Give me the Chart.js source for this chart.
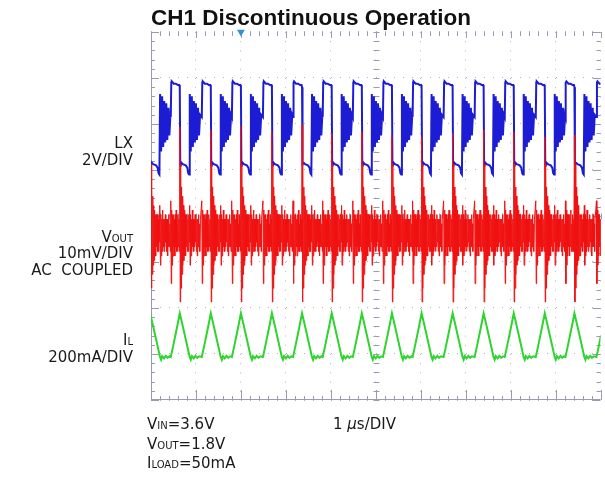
<!DOCTYPE html>
<html>
<head>
<meta charset="utf-8">
<script src="https://cdn.jsdelivr.net/npm/chart.js@4.4.1/dist/chart.umd.min.js"></script>
<style>
    body { margin: 0; background: #fff; }
    #wrap { position: relative; width: 605px; height: 480px; overflow: hidden; }
    #scope { position: absolute; left: 0; top: 0; }
    .lbl { position: absolute; font-family: "DejaVu Sans", sans-serif; font-size: 15px; line-height: 15px; color: #1a1a1a; white-space: nowrap; }
    .r { right: 472px; text-align: right; }
    .sub { font-size: 10px; }
</style>
</head>
<body>
<div id="wrap">
    <canvas id="scope" width="605" height="480"></canvas>

    <div class="lbl r" style="top:136px">LX</div>
    <div class="lbl r" style="top:153px">2V/DIV</div>

    <div class="lbl r" style="top:230px">V<span class="sub">OUT</span></div>
    <div class="lbl r" style="top:246px">10mV/DIV</div>
    <div class="lbl r" style="top:263px">AC&nbsp;&nbsp;COUPLED</div>

    <div class="lbl r" style="top:333px">I<span class="sub">L</span></div>
    <div class="lbl r" style="top:350px">200mA/DIV</div>

    <div class="lbl" style="left:147px; top:417px">V<span class="sub">IN</span>=3.6V</div>
    <div class="lbl" style="left:147px; top:437px">V<span class="sub">OUT</span>=1.8V</div>
    <div class="lbl" style="left:147px; top:456px">I<span class="sub">LOAD</span>=50mA</div>
    <div class="lbl" style="left:333px; top:417px">1 <i>&mu;</i>s/DIV</div>
</div>

<script>
// switching cycle starts (LX rising edges), µs
const lxRise = [-0.22, 0.44, 1.13, 1.80, 2.49, 3.16, 3.82, 4.49, 5.16, 5.82, 6.51, 7.20, 7.87, 8.56, 9.22, 9.91];

// LX node over one cycle: time after rising edge (µs) / volts
const lxT = [0.000, 0.011, 0.022, 0.067, 0.111, 0.156, 0.189, 0.200, 0.211, 0.222, 0.267, 0.333, 0.367,
             0.389, 0.407, 0.422, 0.445, 0.468, 0.491, 0.514, 0.537, 0.560, 0.583, 0.606, 0.629, 0.652];
const lxV = [2.0, 3.5, 3.55, 3.45, 3.45, 3.4, 3.4, 3.3, -0.1, 0.05, -0.05, -0.1, -0.2,
             -0.45, -0.5, 3.0, 0.5, 2.9, 0.7, 2.7, 0.9, 2.6, 1.0, 2.4, 1.2, 2.1];

// inductor current over one cycle: time after rising edge (µs) / mA
const ilT  = [0.000, 0.050, 0.100, 0.150, 0.200, 0.260, 0.320, 0.380, 0.420, 0.445, 0.470, 0.510, 0.550, 0.590, 0.630];
const ilMA = [0,     45,    92,    140,   190,   140,   88,    36,    0,     -12,   4,     -6,    5,     -4,    3];

// output ripple, sampled every 10 ns after each rising edge (mV)
const voutStep = 0.01;
const voutCycle = [
    7, -11, 5, -7, 4, -5, 4, -3, 3, -5, 4, -3, 5, -4, 2, -4, 4, -3, 3, -4,
    0, -15, 15, -12, 10, -9, 8, -7, 6, -6, 5, -5, 4, -5, 4, -3, 4, -4, 3, -4,
    4, -2, 6, -7, 4, -5, 3, -4, 5, -3, 3, -4, 3, -3, 4, -2, 3, -4, 3, -5,
    3, -3, 4, -3, 2, -4, 3
];
const voutSpikeAt = 20;
// height of the ringing spike at each LX falling edge (mV)
const voutSpike = [18, 23.0, 22.4, 23.3, 22.0, 23.5, 21.7, 22.0, 21.3, 20.9, 21.7, 22.4, 22.0, 20.9, 21.3, 22.4];

const triggerAt = [2.0];

function buildCycles(times, values, spikes) {
    const pts = [];
    lxRise.forEach((t0, k) => {
        const next = k + 1 < lxRise.length ? lxRise[k + 1] : t0 + 0.7;
        times.forEach((dt, i) => {
            if (t0 + dt >= next) return;
            let v = values[i];
            if (spikes && i === voutSpikeAt) v = spikes[k];
            pts.push({x: t0 + dt, y: v});
        });
    });
    return pts;
}

const voutT = voutCycle.map((_, i) => i * voutStep);

// scope graticule: frame, centre cross and 0.2 div tick marks
const graticule = {
    id: 'graticule',
    beforeDatasetsDraw(chart) {
        const {ctx, chartArea: a, scales: {x, y}} = chart;
        const cx = Math.round(x.getPixelForValue(5)) + 0.5;
        const cy = Math.round(y.getPixelForValue(4)) + 0.5;
        ctx.save();
        ctx.strokeStyle = '#9a9ab2';
        ctx.lineWidth = 1;
        ctx.beginPath();
        ctx.moveTo(a.left + 0.5, a.top);
        ctx.lineTo(a.left + 0.5, a.bottom - 0.5);
        ctx.lineTo(a.right, a.bottom - 0.5);
        for (let i = 0; i <= 50; i++) {
            const px = Math.round(x.getPixelForValue(i / 5)) + 0.5;
            const major = i % 5 === 0;
            ctx.moveTo(px, cy - 3); ctx.lineTo(px, cy + 3);
            ctx.moveTo(px, a.bottom); ctx.lineTo(px, a.bottom - (major ? 10 : 4));
            ctx.moveTo(px, a.top); ctx.lineTo(px, a.top + (major ? 6 : 4));
        }
        for (let i = 0; i <= 40; i++) {
            const py = Math.round(y.getPixelForValue(i / 5)) + 0.5;
            const major = i % 5 === 0;
            ctx.moveTo(cx - 3, py); ctx.lineTo(cx + 3, py);
            ctx.moveTo(a.left, py); ctx.lineTo(a.left + (major ? 8 : 4), py);
            ctx.moveTo(a.right, py); ctx.lineTo(a.right - (major ? 8 : 4), py);
        }
        ctx.stroke();
        ctx.restore();
    }
};

new Chart(document.getElementById('scope'), {
    type: 'line',
    data: {
        datasets: [{
            label: 'VOUT',
            data: buildCycles(voutT, voutCycle, voutSpike),
            yAxisID: 'yOut',
            borderColor: '#f01212',
            borderWidth: 1,
            order: 0
        }, {
            label: 'LX',
            data: buildCycles(lxT, lxV),
            yAxisID: 'yLx',
            borderColor: '#1c1cd4',
            borderWidth: 2,
            order: 1
        }, {
            label: 'IL',
            data: buildCycles(ilT, ilMA),
            yAxisID: 'yIl',
            borderColor: '#2fd42f',
            borderWidth: 2,
            order: 2
        }, {
            type: 'scatter',
            label: 'trigger',
            data: triggerAt.map(t => ({x: t, y: 8})),
            yAxisID: 'y',
            pointStyle: 'triangle',
            rotation: 180,
            pointRadius: 4.5,
            backgroundColor: '#2e92d8',
            borderWidth: 0,
            clip: false,
            order: 3
        }]
    },
    options: {
        responsive: false,
        animation: false,
        events: [],
        elements: {
            point: {radius: 0},
            line: {tension: 0}
        },
        layout: {padding: {left: 151, right: 4, top: 0, bottom: 80}},
        plugins: {
            legend: {display: false},
            tooltip: {enabled: false},
            title: {
                display: true,
                text: 'CH1 Discontinuous Operation',
                align: 'start',
                color: '#111',
                font: {family: 'Liberation Sans', size: 22.5, weight: 'bold', lineHeight: 1.15},
                padding: {top: 6, bottom: 0.1}
            }
        },
        scales: {
            x: {
                type: 'linear', min: 0, max: 10,
                ticks: {stepSize: 1, display: false},
                grid: {color: '#b4b4c8', drawTicks: false},
                border: {display: false, dash: [1, 8.2]}
            },
            y: {
                min: 0, max: 8,
                ticks: {stepSize: 1, display: false},
                grid: {color: '#b4b4c8', drawTicks: false},
                border: {display: false, dash: [1, 8]}
            },
            yLx: {display: false, min: -10.3, max: 5.7},
            yOut: {display: false, min: -36.3, max: 43.7},
            yIl: {display: false, min: -187, max: 1413}
        }
    },
    plugins: [graticule]
});
</script>
</body>
</html>
